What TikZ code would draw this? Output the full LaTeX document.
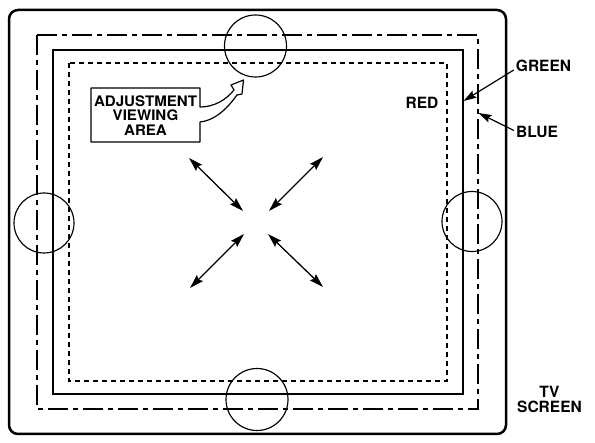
\documentclass[tikz,border=0pt]{standalone}
\usepackage{fontspec}
\setmainfont{TeX Gyre Heros}
\newfontfamily\boxfont[FakeStretch=1.04]{TeX Gyre Heros}
\usetikzlibrary{arrows.meta}
\lineskiplimit=-20pt
\begin{document}
\begin{tikzpicture}[x=1pt,y=-1pt,
  lbl/.style={font={\fontsize{15.5}{15.5}\selectfont\bfseries}, inner sep=0pt, align=center},
  boxlbl/.style={font={\boxfont\fontsize{14.5}{14.4}\selectfont\bfseries}, inner sep=0pt, align=center},
  screen/.style={line width=2.5pt, rounded corners=9pt},
  blueline/.style={line width=1.4pt, dash pattern=on 20pt off 5pt on 5pt off 5pt},
  greenline/.style={line width=1.5pt},
  redline/.style={line width=1.4pt, dash pattern=on 5pt off 4pt},
  adj/.style={circle, draw, line width=1.15pt, inner sep=0pt},
  ptr/.style={line width=1.2pt, -{Stealth[length=13pt,width=8pt,inset=2pt]}},
  dbl/.style={line width=1.3pt, {Stealth[length=14pt,width=8.5pt,inset=2pt]}-{Stealth[length=14pt,width=8.5pt,inset=2pt]}},
  boxline/.style={line width=1.2pt, line join=round}
]
\useasboundingbox (0,0) rectangle (595,443);
% screen outline and convergence frames
\draw[screen] (9,10) rectangle (506,434);
\draw[blueline] (37,35) rectangle (478,409);
\draw[greenline] (53,50) rectangle (463,394);
\draw[redline] (69,63) rectangle (447,381);
% adjustment circles
\node[adj, minimum size=62pt] (ct) at (255.5,46) {};
\node[adj, minimum size=60pt] (cl) at (44,223) {};
\node[adj, minimum size=60pt] (cr) at (472,221.5) {};
\node[adj, minimum size=62pt] (cb) at (257,399.5) {};
% adjustment viewing area box with hollow arrow
\node[boxlbl] (adjtxt) at (145.5,115.5) {ADJUSTMENT\\VIEWING\\AREA};
\draw[boxline] (200,107) -- (200,88) -- (91,88) -- (91,142) -- (200,142) -- (200,122)
  .. controls (217,120) and (229,106) .. (237,95) -- (242,94) -- (243.5,80) -- (231,85) -- (234,90)
  .. controls (226,100) and (214,107) .. (200,107) -- cycle;
% diagonal double arrows
\coordinate (ula) at (189,158); \coordinate (ulb) at (243,211);
\coordinate (ura) at (269,211); \coordinate (urb) at (323,157);
\coordinate (lla) at (244,234); \coordinate (llb) at (190,288);
\coordinate (lra) at (268,234); \coordinate (lrb) at (323,287);
\draw[dbl] (ula) -- (ulb);
\draw[dbl] (ura) -- (urb);
\draw[dbl] (lla) -- (llb);
\draw[dbl] (lra) -- (lrb);
% labels
\node[lbl] (red) at (422,102.5) {RED};
\node[lbl] (green) at (543.5,66) {GREEN};
\node[lbl] (blue) at (537,131.5) {BLUE};
\node[lbl] (tv) at (549.5,399.5) {TV\\SCREEN};
\coordinate (gtip) at (463.5,101);
\coordinate (btip) at (478.5,113);
\draw[ptr] ([shift={(-2,4)}]green.west) -- (gtip);
\draw[ptr] ([shift={(-2,-1)}]blue.west) -- (btip);
\end{tikzpicture}
\end{document}
